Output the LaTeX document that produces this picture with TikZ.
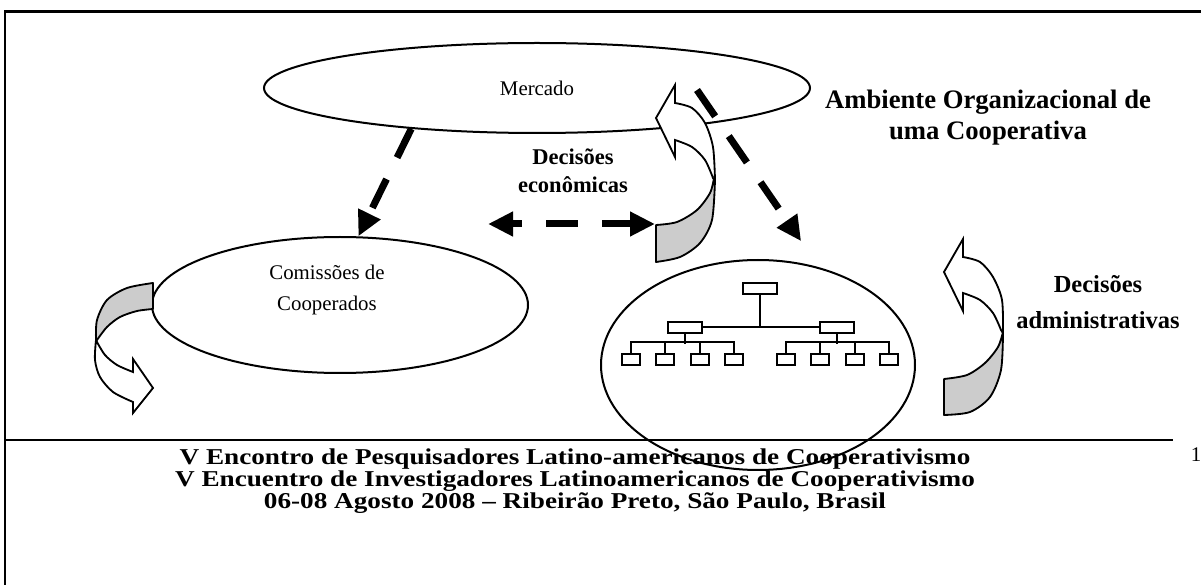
\documentclass[tikz,border=0pt]{standalone}
\usepackage{fontspec}
\setmainfont{Liberation Serif}
\newfontfamily\footfont[FakeStretch=1.2]{Liberation Serif}
\usetikzlibrary{arrows.meta, positioning, shapes.geometric}
\definecolor{FoldFill}{HTML}{CCCCCC}

\begin{document}
\begin{tikzpicture}[
  x=0.6pt, y=-0.6pt,
  line width=1.2pt,
  font=\fontsize{12.5}{15}\selectfont,
  blob/.style={ellipse, draw, line width=1.2pt, inner sep=0pt},
  lbl/.style={align=center, inner sep=0pt},
  dasharrow/.style={
    line width=4.2pt,
    dash pattern=on 19.2pt off 14.4pt,
    -{Triangle[length=15pt, width=14pt]},
  },
  fold/.style={draw, line width=1.1pt, fill=FoldFill, line join=round},
  flap/.style={draw, line width=1.1pt, fill=white, line join=miter},
  unit/.style={draw, line width=1.2pt, inner sep=0pt,
    minimum width=20.4pt, minimum height=6.6pt},
  leaf/.style={draw, line width=1.2pt, inner sep=0pt,
    minimum width=10.8pt, minimum height=6.6pt},
]
  \useasboundingbox (0,0) rectangle (1201,585);

  % frame and footer
  \draw[line width=1.8pt] (5,585) -- (5,12) -- (1201,12);
  \draw (5,440) -- (1173,440);
  \node[lbl, font=\footfont\bfseries\fontsize{13.6}{12.3}\selectfont]
    (foot) at (575,481) {V Encontro de Pesquisadores Latino-americanos de Cooperativismo\\
    V Encuentro de Investigadores Latinoamericanos de Cooperativismo\\
    06-08 Agosto 2008 – Ribeirão Preto, São Paulo, Brasil};
  \node[lbl] (pg) at (1196,455) {1};

  % the three spheres
  \node[blob, minimum width=327.6pt, minimum height=54pt] (mercado) at (537,88) {Mercado};
  \node[blob, minimum width=225.6pt, minimum height=81.6pt] (comissoes) at (340,305) {};
  \node[lbl] (comtxt) at (327,290) {Comissões de\\[4pt]Cooperados};
  \node[blob, minimum width=188.4pt, minimum height=126pt] (org) at (758,365) {};

  % organisation chart
  \node[unit] (top) at (760,288.5) {};
  \node[unit] (midl) at (684.5,327.5) {};
  \node[unit] (midr) at (837,327.5) {};
  \draw (top.south) -- (top.south |- midl.east);
  \draw (midl.east) -- (midr.west);
  \foreach \x [count=\i] in {631,665,700,734}
    \node[leaf] (ll\i) at (\x,359.5) {};
  \foreach \x [count=\i] in {786,820,855,889}
    \node[leaf] (lr\i) at (\x,359.5) {};
  \draw (midl.south) -- ++(0,10);
  \draw (midr.south) -- ++(0,10);
  \draw (ll1.north) -- ++(0,-11) -| (ll4.north);
  \draw (ll2.north) -- ++(0,-11);
  \draw (ll3.north) -- ++(0,-11);
  \draw (lr1.north) -- ++(0,-11) -| (lr4.north);
  \draw (lr2.north) -- ++(0,-11);
  \draw (lr3.north) -- ++(0,-11);

  % labels
  \node[lbl, font=\fontsize{13.5}{16.8}\selectfont\bfseries] (econ) at (573,171) {Decisões\\econômicas};
  \node[lbl, font=\fontsize{16}{18.6}\selectfont\bfseries] (amb) at (988,118) {Ambiente Organizacional de\\uma Cooperativa};
  \node[lbl, font=\fontsize{14.7}{21.6}\selectfont\bfseries] (adm) at (1098,302) {Decisões\\administrativas};

  % curved arrows
  \path[fold] plot[smooth] coordinates {(153,283) (127,288) (107,300) (97,320) (96,340)}
    -- plot[smooth] coordinates {(97,340) (107,327) (120,317) (137,311) (153,309)} -- cycle;
  \path[flap] plot[smooth] coordinates {(96,340) (95,360) (100,377) (113,392) (133,402)}
    -- (133,413) -- (153,388) -- (133,359) -- (133,372)
    -- plot[smooth] coordinates {(133,372) (117,365) (105,355) (97,342)} -- cycle;

  \path[fold] plot[smooth] coordinates {(656,262) (680,257) (700,243) (712,220) (715,180)}
    -- plot[smooth] coordinates {(714,178) (710,193) (697,210) (677,222) (656,225)} -- cycle;
  \path[flap] plot[smooth] coordinates {(715,180) (713,147) (705,123) (692,108) (675,103)}
    -- (675,85) -- (656,118) -- (675,157) -- (675,140)
    -- plot[smooth] coordinates {(675,140) (692,147) (705,160) (713,178)} -- cycle;

  \path[fold] plot[smooth] coordinates {(944,415) (970,412) (990,397) (1001,370) (1003,333)}
    -- plot[smooth] coordinates {(1003,332) (998,347) (985,363) (967,375) (944,379)} -- cycle;
  \path[flap] plot[smooth] coordinates {(1003,333) (1002,300) (993,277) (980,262) (963,257)}
    -- (963,239) -- (944,272) -- (963,311) -- (963,293)
    -- plot[smooth] coordinates {(963,293) (980,300) (993,313) (1001,330)} -- cycle;

  % decision flows
  \coordinate (mk) at (697,90);
  \coordinate (ea) at (488,224);
  \coordinate (eb) at (655,224);
  \draw[dasharrow] (mercado.198) -- (comissoes.75);
  \draw[dasharrow, shorten >=19pt] (mk) -- (org.58);
  \draw[dasharrow, dash phase=12.6pt,
    {Triangle[length=15pt, width=14pt]}-{Triangle[length=15pt, width=14pt]}] (ea) -- (eb);
\end{tikzpicture}
\end{document}
